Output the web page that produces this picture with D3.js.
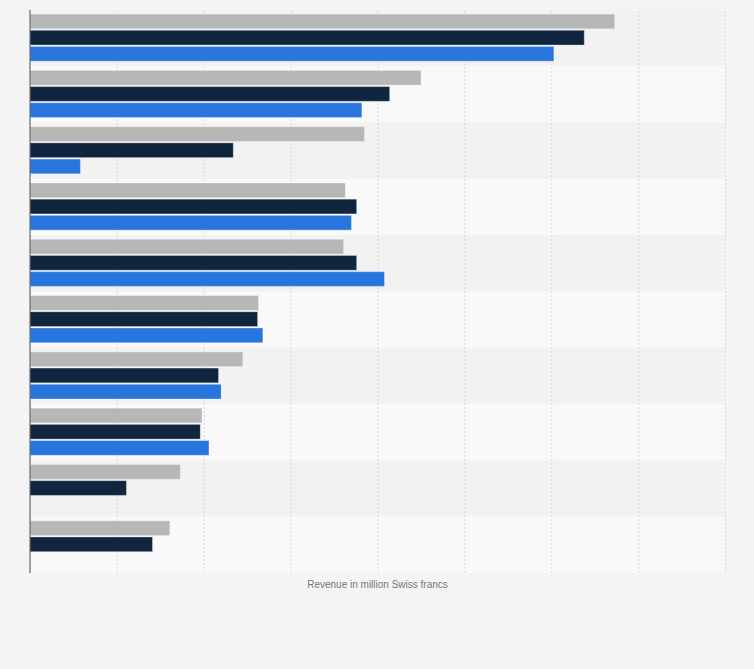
<!DOCTYPE html>
<html>
<head>
<meta charset="utf-8">
<script src="https://cdn.jsdelivr.net/npm/d3@7"></script>
<style>
  body { margin: 0; background: #f4f4f4; }
  svg { display: block; }
</style>
</head>
<body>
<div id="vis"></div>
<script>
// chart values (category labels are not shown)
var categories = ['Row 1', 'Row 2', 'Row 3', 'Row 4', 'Row 5',
  'Row 6', 'Row 7', 'Row 8', 'Row 9', 'Row 10'];
var seriesNames = ['Series A', 'Series B', 'Series C'];
var seriesA = [673, 450, 385, 363, 361, 263, 245, 198, 173, 161];
var seriesB = [638, 414, 234, 376, 376, 262, 217, 196, 111, 141];
var seriesC = [603, 382, 58, 370, 408, 268, 220, 206, null, null];
var xTicks = [0, 100, 200, 300, 400, 500, 600, 700, 800];

var width = 754;
var height = 669;
var margin = { top: 10, left: 30, right: 29, bottom: 96 };
var innerW = width - margin.left - margin.right;
var innerH = height - margin.top - margin.bottom;

var colors = ['#b7b7b7', '#10263f', '#2876dd'];
var series = [seriesA, seriesB, seriesC];

var svg = d3.select('#vis').append('svg')
  .attr('width', width)
  .attr('height', height);

var g = svg.append('g')
  .attr('transform', 'translate(' + margin.left + ',' + margin.top + ')');

var x = d3.scaleLinear().domain([0, 800]).range([0, innerW]);
var y = d3.scaleBand().domain(categories).range([0, innerH]);
var y1 = d3.scaleBand().domain(seriesNames)
  .range([4.1, 51.2]).paddingInner(0.09);

// alternating row bands
g.append('g').selectAll('rect')
  .data(categories)
  .enter()
  .append('rect')
  .attr('x', 0)
  .attr('y', function(d) { return y(d); })
  .attr('width', innerW)
  .attr('height', y.step())
  .attr('fill', function(d, i) { return i % 2 === 0 ? '#f2f2f2' : '#f9f9f9'; });

// dashed gridlines
var grid = g.append('g')
  .attr('transform', 'translate(0,' + innerH + ')')
  .call(d3.axisBottom(x).tickValues(xTicks).tickSize(-innerH).tickFormat(''));
grid.select('.domain').remove();
grid.selectAll('line')
  .attr('stroke', '#d6d6d6')
  .attr('stroke-dasharray', '2,2');

// bars
var rows = g.append('g').selectAll('g')
  .data(categories)
  .enter()
  .append('g')
  .attr('transform', function(d) { return 'translate(0,' + y(d) + ')'; });

rows.selectAll('rect')
  .data(function(d, i) {
    return seriesNames.map(function(s, k) {
      return { key: s, value: series[k][i], color: colors[k] };
    }).filter(function(b) { return b.value != null; });
  })
  .enter()
  .append('rect')
  .attr('x', 0)
  .attr('y', function(d) { return y1(d.key); })
  .attr('width', function(d) { return x(d.value); })
  .attr('height', y1.bandwidth())
  .attr('fill', function(d) { return d.color; })
  .attr('stroke', 'rgba(255,255,255,0.3)')
  .attr('stroke-width', 1);

// left axis line
g.append('line')
  .attr('x1', 0).attr('x2', 0)
  .attr('y1', 0).attr('y2', innerH)
  .attr('stroke', '#555')
  .attr('stroke-width', 1);

// axis title
g.append('text')
  .attr('x', innerW / 2)
  .attr('y', innerH + 15)
  .attr('text-anchor', 'middle')
  .style('font-family', 'Liberation Sans, Arial, sans-serif')
  .style('font-size', '10px')
  .attr('fill', '#777')
  .text('Revenue in million Swiss francs');
</script>
</body>
</html>
